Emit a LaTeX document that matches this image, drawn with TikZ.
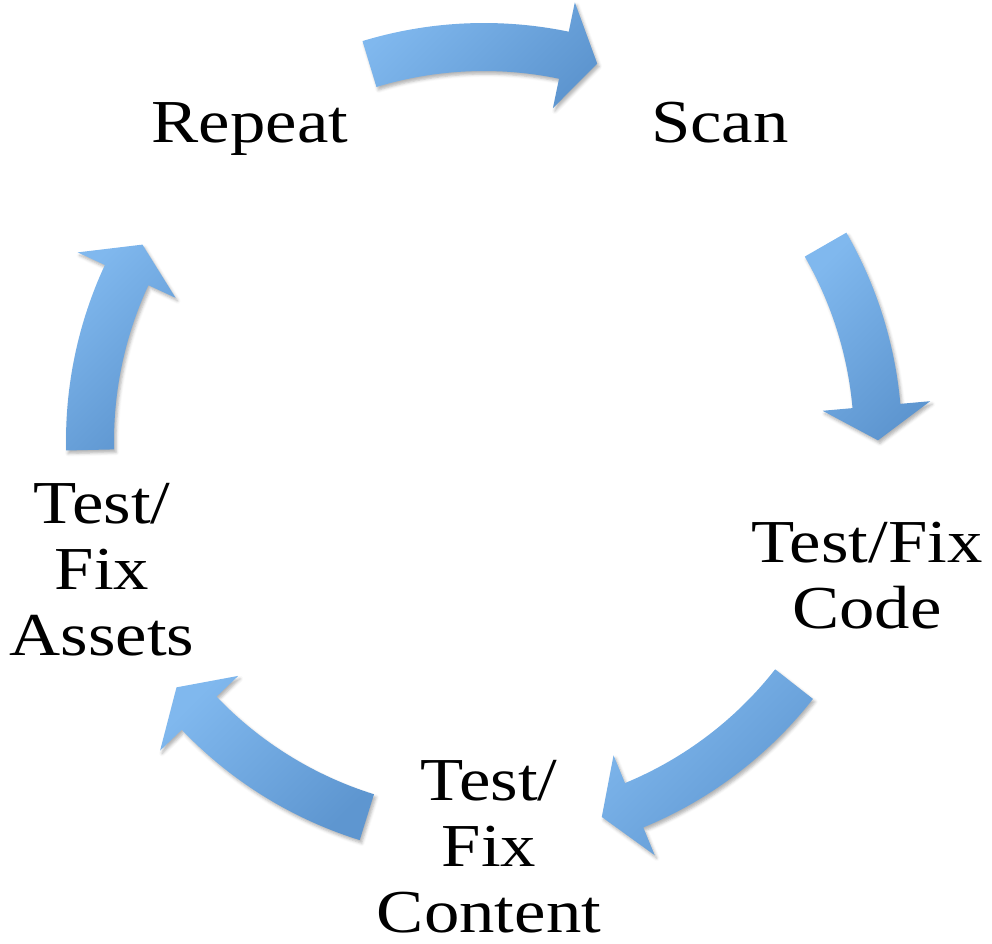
\documentclass[tikz,border=0pt]{standalone}
\usepackage{fontspec}
\setmainfont{Liberation Serif}[FakeStretch=1.16]
\usetikzlibrary{calc,shadows.blur}
\tikzset{>=latex}
\definecolor{arrowlight}{RGB}{128,184,238}
\definecolor{arrowdark}{RGB}{94,150,208}
\tikzset{
  cyclearrow/.style={top color=arrowlight, bottom color=arrowdark, shading angle=45,
    blur shadow={shadow xshift=2pt, shadow yshift=-3pt, shadow blur radius=3pt, shadow opacity=30}},
  steplabel/.style={font=\fontsize{61}{66}\selectfont, align=center, anchor=base, inner sep=0pt}
}

\begin{document}
\begin{tikzpicture}[x=1pt,y=1pt]
	\useasboundingbox (0,0) rectangle (992,-943);
	\coordinate (c) at (484,-441);
	% labels (base = last line)
	\node[steplabel] (repeat) at (250,-142) {Repeat};
	\node[steplabel] (scan) at (720,-142) {Scan};
	\node[steplabel] (code) at (867,-628) {Test/Fix\\Code};
	\node[steplabel, text depth=0pt] (content) at (489,-932) {Test/\\Fix\\Content};
	\node[steplabel] (assets) at (102,-655) {Test/\\Fix\\Assets};
	% arrows: tail angle / tip angle
	\foreach \t/\p in {106.9/73.3, 29.9/0.1, -38.1/-72.6, -107.3/-141.3, 181.3/150.1}{
		\pgfmathsetmacro{\h}{\p+5}
		\path[cyclearrow] ($(c)+(\t:418)$) arc[start angle=\t, end angle=\h, radius=418]
			-- ($(c)+(\h:448)$) -- ($(c)+(\p:394)$) -- ($(c)+(\h:340)$) -- ($(c)+(\h:370)$)
			arc[start angle=\h, end angle=\t, radius=370] -- cycle;
	}
\end{tikzpicture}
\end{document}
